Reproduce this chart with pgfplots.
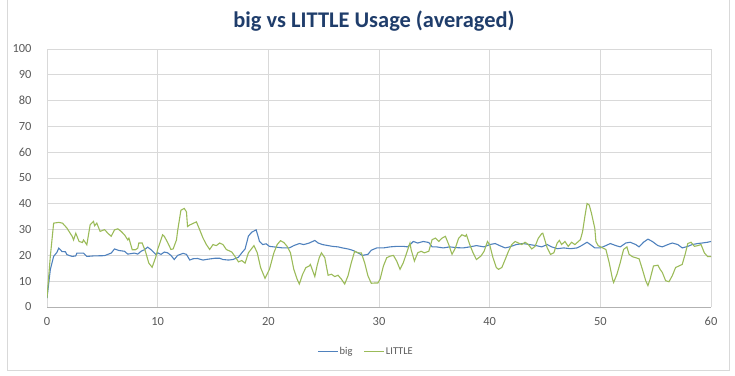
\documentclass[border=0pt]{standalone}
\usepackage{pgfplots}
\pgfplotsset{compat=1.18}
\usepackage{fontspec}
\setmainfont{Carlito}
\definecolor{bigc}{HTML}{4F81BD}
\definecolor{litc}{HTML}{9BBB59}
\definecolor{titc}{HTML}{1F3D6B}
\definecolor{tickc}{HTML}{595959}
\definecolor{gridc}{HTML}{D9D9D9}
\begin{document}
\begin{tikzpicture}
\path[use as bounding box] (-47bp,-69bp) rectangle (688bp,307bp);
\draw[gridc, line width=0.8pt] (-40bp,-63bp) rectangle (682bp,330bp);
\begin{axis}[
  at={(0,0)}, anchor=south west,
  scale only axis, width=664bp, height=258bp,
  xmin=0, xmax=60, ymin=0, ymax=100,
  xtick={0,10,...,60}, ytick={0,10,...,100},
  grid=major, major grid style={color=gridc, line width=0.7pt},
  axis x line*=bottom, axis y line*=left,
  x axis line style={color=gray!60, line width=0.8pt},
  y axis line style={draw=none},
  major tick length=0pt,
  tick label style={font=\fontsize{12.5}{15}\selectfont, text=tickc},
  /pgf/number format/assume math mode=true,
  xticklabel style={yshift=-7bp},
  yticklabel style={xshift=-12bp},
  legend columns=2,
  legend style={at={(0.48,-0.174)}, anchor=center, draw=none, fill=none,
    font=\fontsize{10.5}{12}\selectfont, text=tickc,
    nodes={inner sep=1.2bp},
    /tikz/every even column/.append style={column sep=10bp}},
  legend image code/.code={\draw[#1, line width=1.1pt] (0bp,0bp) -- (20bp,0bp);},
]
\addplot[bigc, line width=1.1pt] coordinates {
(0,3.5) (0.3,14.5) (0.6,19.6) (0.9,21.2) (1.06,22.8) (1.36,21.5) (1.67,21.4) (1.8,20.3)
(2.27,19.6) (2.6,19.8) (2.7,20.9) (3.3,20.9) (3.6,19.6) (4.2,19.8) (5.2,19.9) (5.8,20.9)
(6.1,22.5) (6.5,21.9) (7.0,21.6) (7.3,20.5) (7.9,20.9) (8.2,20.5) (8.5,21.6) (8.8,22.2)
(9.1,23.2) (9.4,22.2) (9.85,20.3) (10.0,21) (10.3,20.4) (10.6,21.3) (10.9,21) (11.2,20)
(11.5,18.4) (11.8,20) (12.3,20.8) (12.6,20.4) (12.9,18.2) (13.2,18.7) (13.6,18.8) (14.1,18.2)
(14.5,18.5) (15.2,18.9) (15.6,18.9) (15.9,18.4) (16.4,18.2) (16.8,18.4) (17.3,19.3) (17.6,21)
(17.9,22.5) (18.2,27.5) (18.5,29) (18.9,29.9) (19.1,27) (19.2,25.4) (19.5,24.2) (19.8,24.5)
(20.1,23.5) (20.7,23.2) (21.3,22.9) (21.9,22.9) (22.3,23.8) (22.8,24.6) (23.2,24.2) (23.7,24.8)
(24.2,25.8) (24.5,24.8) (24.9,24.2) (25.4,23.8) (25.8,23.5) (26.3,23.3) (26.7,22.9) (27.2,22.5)
(27.6,22) (28.1,21) (28.5,20) (29.0,20.4) (29.3,22) (29.8,22.9) (30.4,22.9) (31.0,23.3)
(31.6,23.5) (32.2,23.5) (32.6,23.3) (33.1,25.4) (33.5,24.8) (34.0,25.4) (34.5,25) (34.8,23.3)
(35.2,23.3) (35.8,22.9) (36.4,23.3) (37.0,23.0) (37.6,22.9) (38.2,23.3) (38.8,23.8) (39.5,23.3)
(40.0,24.2) (40.5,24.6) (40.9,23.8) (41.4,22.9) (41.8,23.3) (42.4,24.2) (43.0,24.6) (43.6,24.2)
(44.2,23.8) (44.7,23.3) (45.2,24.2) (45.6,23.3) (46.1,22.6) (46.7,22.9) (47.3,22.6) (47.9,22.9)
(48.3,23.8) (48.8,25.1) (49.1,24.2) (49.5,22.9) (50.0,22.9) (50.5,23.8) (50.9,24.6) (51.4,23.8)
(51.8,23.3) (52.3,24.8) (52.7,25.1) (53.2,24.2) (53.5,23.3) (53.9,25.1) (54.3,26.3) (54.7,25.4)
(55.2,23.8) (55.6,23.3) (56.1,24.2) (56.5,24.8) (57.0,24.2) (57.4,22.9) (57.9,23.5) (58.3,24.2)
(58.8,24.6) (59.2,24.8) (59.7,25.1) (60,25.4)
};
\addlegendentry{big}
\addplot[litc, line width=1.1pt] coordinates {
(0,3.5) (0.3,19.6) (0.6,32.5) (1.06,32.8) (1.4,32.5) (1.8,30.6) (2.27,27.4) (2.4,26)
(2.6,28.6) (2.9,25.4) (3.2,25) (3.3,26) (3.6,24.1) (3.9,31.9) (4.2,33.2) (4.3,31.5)
(4.5,32.5) (4.8,29.3) (5.2,30) (5.5,28.6) (5.8,27.4) (6.1,29.9) (6.4,30.3) (6.7,29.3)
(7.0,28) (7.3,26) (7.4,26.7) (7.7,22.2) (8.0,22.2) (8.2,22.8) (8.3,24.8) (8.6,24.8)
(8.9,21.5) (9.2,17) (9.5,15.4) (9.85,19.6) (10.0,22.3) (10.45,28) (10.6,27.4) (10.9,25)
(11.2,22.3) (11.4,22.5) (11.7,26) (11.8,29.4) (12.1,37.5) (12.4,38.2) (12.6,36.9) (12.7,31.2)
(12.9,31.8) (13.2,32.4) (13.5,33) (13.8,29.9) (14.1,26.7) (14.4,24.2) (14.7,22.3) (15.0,24.2)
(15.3,23.8) (15.6,24.8) (15.9,24.2) (16.2,22.3) (16.7,21.3) (17.0,19.5) (17.3,17.5) (17.6,18)
(17.9,17) (18.2,21) (18.7,23.8) (19.0,21) (19.3,15.3) (19.7,11.1) (20.1,14.6) (20.5,21)
(20.8,24.2) (21.1,25.7) (21.4,25) (21.7,23.5) (22.0,21) (22.3,14.6) (22.6,10.8) (22.8,8.9)
(23.1,12.7) (23.4,15.3) (23.7,15.9) (23.8,16.5) (24.2,11.8) (24.4,15.9) (24.6,19.1) (24.8,21)
(25.1,19.1) (25.4,12.3) (25.7,12.7) (26.0,11.8) (26.3,12.3) (26.6,10.8) (26.9,8.9) (27.2,12.1)
(27.5,17.2) (27.8,21.6) (28.1,21) (28.4,21) (28.7,17.2) (29.0,12.1) (29.3,9.2) (29.6,9.3)
(29.9,9.3) (30.1,10.8) (30.4,15.9) (30.7,19.1) (31.0,19.7) (31.3,20) (31.6,17.8) (31.9,14.6)
(32.2,17.2) (32.5,21) (32.8,24.8) (32.9,22.3) (33.2,17.8) (33.5,21) (33.8,21.6) (34.1,21)
(34.5,21.6) (34.8,26.1) (35.1,26.7) (35.4,25.4) (35.7,26.7) (36.0,27.4) (36.3,24.2) (36.6,20.4)
(36.9,22.9) (37.2,26.7) (37.5,28) (37.8,27.4) (37.9,28) (38.2,24.2) (38.5,21) (38.8,18.4)
(39.2,19.7) (39.5,21.6) (39.8,25.4) (40.0,24.2) (40.3,19.1) (40.6,15.3) (40.8,14.6) (41.1,15.3)
(41.4,18.4) (41.7,21.6) (42.0,24.2) (42.3,25.4) (42.6,24.8) (42.9,24.2) (43.2,25.1) (43.5,24.2)
(43.8,22.5) (44.1,23.5) (44.4,26.7) (44.7,28.4) (44.8,28.6) (45.2,22.9) (45.5,20.4) (45.8,21)
(46.1,24.8) (46.3,25.8) (46.5,24.2) (46.8,25.4) (47.1,23.5) (47.4,25.1) (47.7,24.2) (48.2,26.1)
(48.4,29.3) (48.6,35) (48.8,40.1) (49.0,39.5) (49.2,36.3) (49.5,30.5) (49.6,25.4) (49.8,23.8)
(50.2,22.9) (50.5,22.3) (50.8,17.2) (51.1,10.8) (51.2,9.5) (51.5,12.7) (51.8,17.2) (52.1,22.3)
(52.4,23.3) (52.6,20.4) (52.9,19.5) (53.2,19.1) (53.5,18.7) (53.8,14.6) (54.1,10.2) (54.3,8.3)
(54.5,10.8) (54.8,15.9) (55.2,16.2) (55.4,14.6) (55.6,13.4) (55.9,10.2) (56.2,9.8) (56.5,12.1)
(56.8,15.3) (57.1,15.9) (57.4,16.5) (57.7,21) (57.9,24.6) (58.2,25.1) (58.5,23.5) (58.8,23.8)
(59.1,24.2) (59.4,21) (59.7,19.5) (60,19.5)
};
\addlegendentry{LITTLE}
\end{axis}
\node[font=\bfseries\fontsize{22.5}{26}\selectfont, text=titc] at (327bp,286bp) {big vs LITTLE Usage (averaged)};
\end{tikzpicture}
\end{document}
